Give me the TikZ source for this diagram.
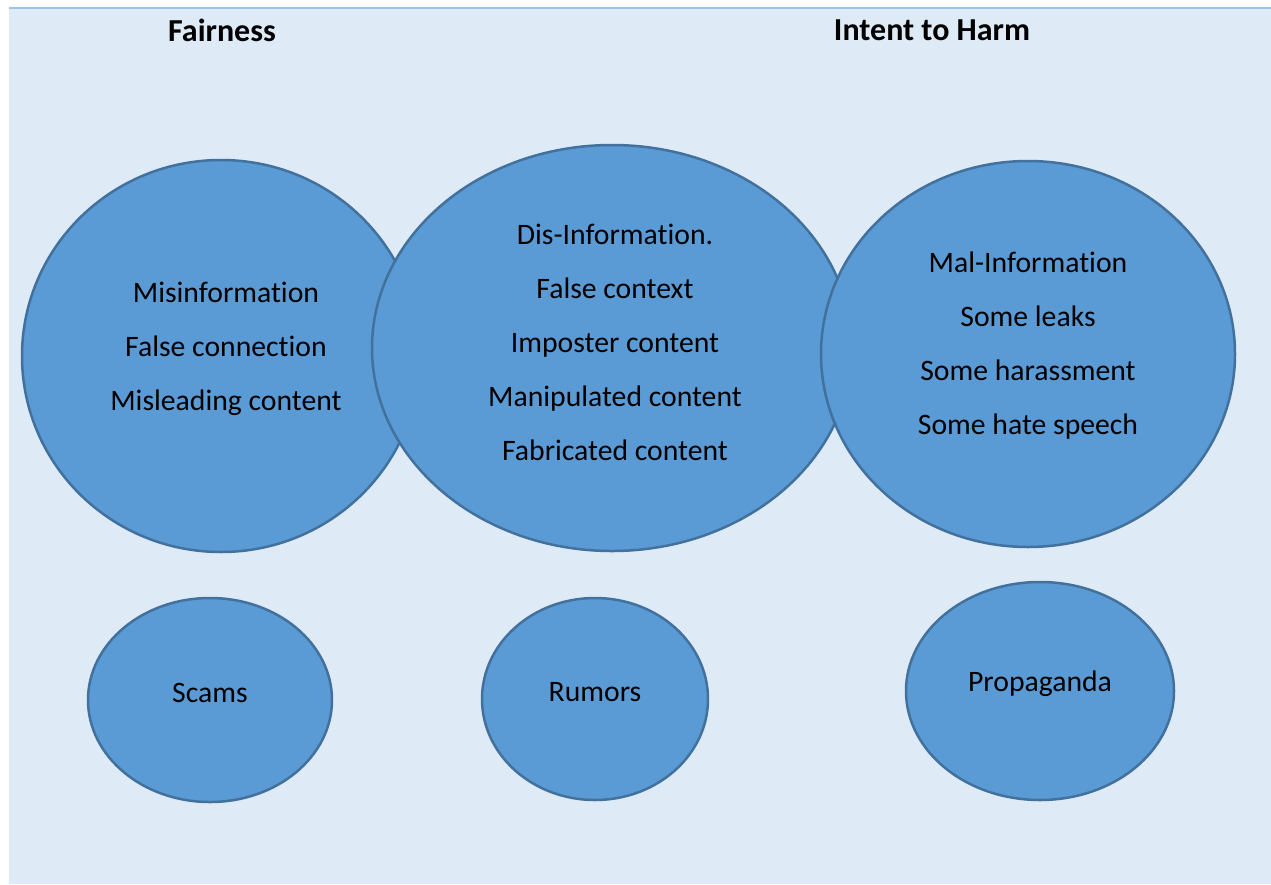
\documentclass[tikz,border=0pt]{standalone}
\usepackage{fontspec}
\setmainfont[Ligatures=NoCommon]{Carlito}
\usepackage{tikz}
\usetikzlibrary{shapes.geometric}
\definecolor{bgblue}{RGB}{222,234,246}
\definecolor{topline}{RGB}{157,195,230}
\definecolor{blobfill}{RGB}{91,155,213}
\definecolor{blobline}{RGB}{65,113,156}

\begin{document}
\begin{tikzpicture}[x=1pt,y=-1pt]
\tikzstyle{blob} = [ellipse, draw=blobline, fill=blobfill, line width=2.5pt, inner sep=0pt]
\tikzstyle{txt} = [align=center, font=\fontsize{29.7}{54}\selectfont, inner sep=0pt]
\tikzstyle{head} = [font=\fontsize{32}{36}\selectfont\bfseries, inner sep=0pt]

\useasboundingbox (0,0) rectangle (1271,884);
\fill[bgblue] (9,8) rectangle (1271,884);
\draw[topline, line width=2pt] (9,8) -- (1271,8);

\node[head] (fair) at (222,30) {Fairness};
\node[head] (harm) at (932,30) {Intent to Harm};

% big circles
\node[blob, minimum width=398, minimum height=392] (mis) at (221,356) {};
\node[blob, minimum width=480, minimum height=406] (dis) at (612,348) {};
\node[blob, minimum width=414, minimum height=386] (mal) at (1028,354) {};

\node[txt] (mistxt) at ([xshift=5pt,yshift=7pt]mis.center) {Misinformation\\False connection\\Misleading content};
\node[txt] (distxt) at ([xshift=3pt,yshift=6pt]dis.center) {Dis-Information.\\False context\\Imposter content\\Manipulated content\\Fabricated content};
\node[txt] (maltxt) at ([yshift=8pt]mal.center) {Mal-Information\\Some leaks\\Some harassment\\Some hate speech};

% small circles
\node[blob, minimum width=244, minimum height=204] (scam) at (210,700) {};
\node[blob, minimum width=226, minimum height=202] (rum) at (595,699) {};
\node[blob, minimum width=268, minimum height=218] (prop) at (1040,691) {};

\node[txt] (scamtxt) at ([yshift=7pt]scam.center) {Scams};
\node[txt] (rumtxt) at ([yshift=7pt]rum.center) {Rumors};
\node[txt] (proptxt) at ([yshift=7pt]prop.center) {Propaganda};

\end{tikzpicture}
\end{document}
